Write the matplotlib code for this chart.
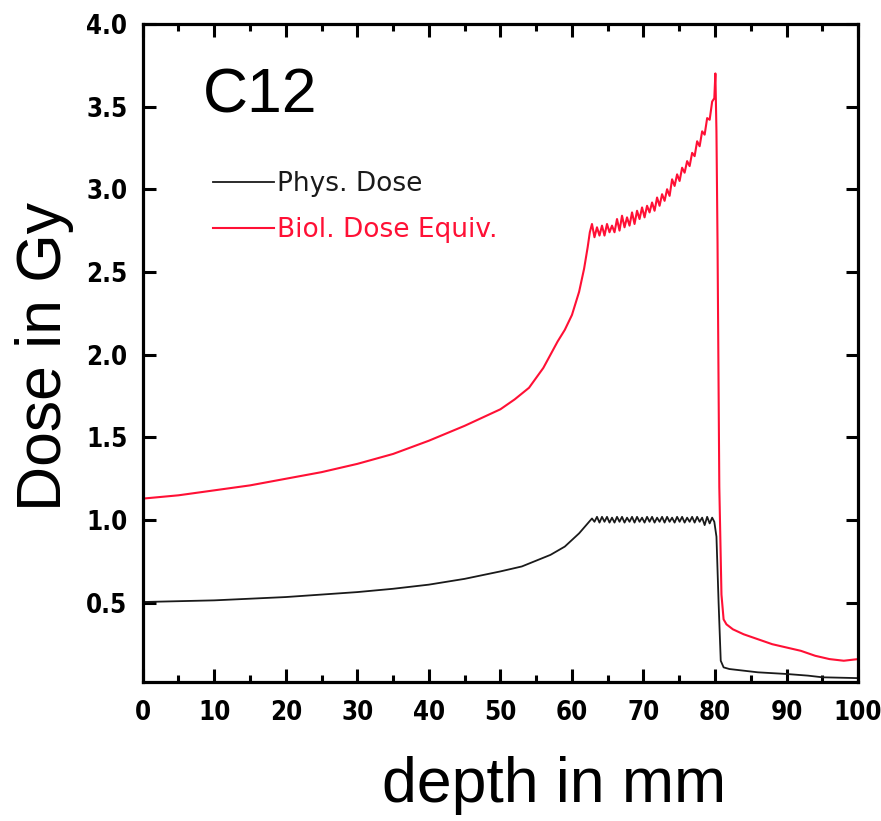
import matplotlib
matplotlib.use("Agg")
import matplotlib.pyplot as plt
from matplotlib.ticker import MultipleLocator

# depth in mm / dose in Gy
phys_depth = [0, 5, 10, 15, 20, 25, 30, 35, 40, 45, 50, 53, 55, 57, 59, 60, 61, 62, 62.8,
              63.15, 63.5, 63.85, 64.2, 64.55, 64.9, 65.25, 65.6, 65.95, 66.3, 66.65, 67.0,
              67.35, 67.7, 68.05, 68.4, 68.75, 69.1, 69.45, 69.8, 70.15, 70.5, 70.85, 71.2,
              71.55, 71.9, 72.25, 72.6, 72.95, 73.3, 73.65, 74.0, 74.35, 74.7, 75.05, 75.4,
              75.75, 76.1, 76.45, 76.8, 77.15, 77.5, 77.85, 78.2, 78.55, 78.9, 79.25, 79.6,
              79.9, 80.2, 80.5, 80.8, 81.2, 82, 84, 86, 88, 90, 93, 95, 100]
phys_dose = [0.505, 0.51, 0.515, 0.525, 0.535, 0.55, 0.565, 0.585, 0.61, 0.645, 0.69, 0.72,
             0.755, 0.79, 0.84, 0.88, 0.92, 0.97, 1.01,
             0.99, 1.02, 0.985, 1.02, 0.99, 1.02, 0.985, 1.015, 0.985, 1.02, 0.99, 1.02,
             0.985, 1.015, 0.99, 1.02, 0.985, 1.02, 0.99, 1.015, 0.985, 1.02, 0.99, 1.02,
             0.985, 1.015, 0.99, 1.02, 0.985, 1.02, 0.99, 1.015, 0.985, 1.02, 0.99, 1.02,
             0.985, 1.015, 0.99, 1.02, 0.985, 1.02, 0.99, 1.015, 0.97, 1.02, 0.98, 1.015,
             0.99, 0.9, 0.5, 0.15, 0.11, 0.10, 0.09, 0.08, 0.075, 0.07, 0.06, 0.05, 0.045]

biol_depth = [0, 5, 10, 15, 20, 25, 30, 35, 40, 45, 48, 50, 52, 54, 56, 58, 59, 60, 61, 61.7,
              62.2, 62.5,
              62.8, 63.15, 63.5, 63.85, 64.2, 64.55, 64.9, 65.25, 65.6, 65.95, 66.3, 66.65,
              67.0, 67.35, 67.7, 68.05, 68.4, 68.75, 69.1, 69.45, 69.8, 70.15, 70.5, 70.85,
              71.2, 71.55, 71.9, 72.25, 72.6, 72.95, 73.3, 73.65, 74.0, 74.35, 74.7, 75.05,
              75.4, 75.75, 76.1, 76.45, 76.8, 77.15, 77.5, 77.85, 78.2, 78.55, 78.9, 79.25,
              79.6, 79.9, 80.05, 80.2, 80.35, 80.6, 80.9, 81.2, 81.6, 82.5, 84, 86, 88, 90,
              92, 94, 96, 98, 100]
biol_dose = [1.13, 1.15, 1.18, 1.21, 1.25, 1.29, 1.34, 1.40, 1.48, 1.57, 1.63, 1.67, 1.73,
             1.80, 1.92, 2.08, 2.15, 2.24, 2.38, 2.52, 2.65, 2.74,
             2.79, 2.71, 2.77, 2.72, 2.78, 2.72, 2.79, 2.74, 2.78, 2.74, 2.82, 2.75,
             2.84, 2.77, 2.83, 2.78, 2.86, 2.79, 2.87, 2.82, 2.89, 2.83, 2.90, 2.86,
             2.92, 2.87, 2.95, 2.90, 2.97, 2.93, 3.00, 2.96, 3.06, 3.02, 3.09, 3.05,
             3.13, 3.10, 3.17, 3.14, 3.22, 3.20, 3.29, 3.26, 3.35, 3.33, 3.43, 3.42,
             3.53, 3.55, 3.70, 3.35, 2.68, 1.2, 0.55, 0.40, 0.37, 0.34, 0.31, 0.28, 0.25, 0.23,
             0.21, 0.18, 0.16, 0.15, 0.16]

series_labels = ["Phys. Dose", "Biol. Dose Equiv."]
series_colors = ["#1a1a1a", "#ff1035"]
y_ticks = [0.5, 1.0, 1.5, 2.0, 2.5, 3.0, 3.5, 4.0]

fig = plt.figure(figsize=(8.81, 8.21), dpi=100)
ax = fig.add_axes([0.162, 0.169, 0.812, 0.802])

ax.plot(phys_depth, phys_dose, color=series_colors[0], lw=1.3, label=series_labels[0])
ax.plot(biol_depth, biol_dose, color=series_colors[1], lw=1.5, label=series_labels[1])

ax.set_xlim(0, 100)
ax.set_ylim(0.02, 4.0)
ax.xaxis.set_major_locator(MultipleLocator(10))
ax.xaxis.set_minor_locator(MultipleLocator(5))
ax.set_yticks(y_ticks)
ax.set_yticklabels([f"{v:.1f}" for v in y_ticks])

for s in ax.spines.values():
    s.set_linewidth(2.3)
ax.tick_params(which="both", direction="in", top=True, right=True, width=2.2)
ax.tick_params(axis="x", which="major", length=9.5, pad=13)
ax.tick_params(axis="x", which="minor", length=5)
ax.tick_params(axis="y", which="major", length=9, pad=11)

tick_font = dict(family=["DejaVu Sans"], stretch="condensed", weight="bold", size=18.5)
for lab in ax.get_xticklabels() + ax.get_yticklabels():
    lab.set_fontproperties(matplotlib.font_manager.FontProperties(**tick_font))

fig.text(0.051, 0.566, "Dose in Gy", rotation=90, ha="center", va="center",
         family=["Liberation Sans", "DejaVu Sans"], fontsize=45)
fig.text(0.629, 0.023, "depth in mm", ha="center", va="baseline",
         family=["Liberation Sans", "DejaVu Sans"], fontsize=45)
ax.text(0.084, 0.865, "C12", transform=ax.transAxes, ha="left", va="baseline",
        family=["Liberation Sans", "DejaVu Sans"], fontsize=45)

leg = ax.legend(loc="upper left", bbox_to_anchor=(0.098, 0.776), frameon=False,
                handlelength=2.3, handletextpad=0.15, labelspacing=0.75,
                borderpad=0, borderaxespad=0,
                prop=dict(family="DejaVu Sans", size=19))
for txt, c in zip(leg.get_texts(), series_colors):
    txt.set_color(c)

fig.savefig("out.png", dpi=100)
